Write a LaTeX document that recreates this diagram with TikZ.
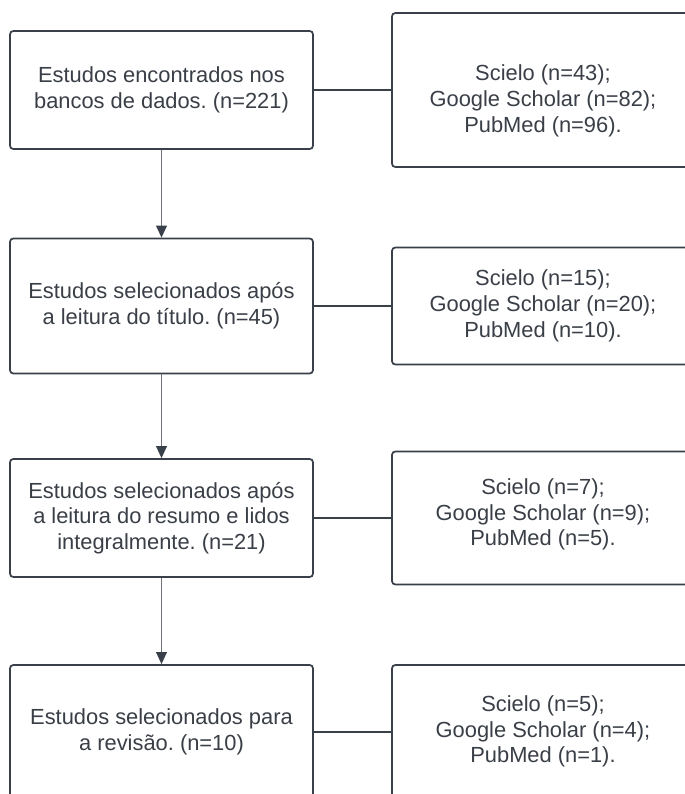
\documentclass[tikz,border=0pt]{standalone}
\usepackage{fontspec}
\setmainfont{Liberation Sans}
\usetikzlibrary{arrows.meta}
\definecolor{bordercol}{HTML}{3A4049}
\definecolor{textcol}{HTML}{3A3F47}
\definecolor{arrowcol}{HTML}{6E7278}
\frenchspacing
\begin{document}
\begin{tikzpicture}[x=0.75pt,y=-0.75pt,
  every node/.style={font=\fontsize{16.4pt}{19.3pt}\selectfont\frenchspacing, text=textcol, align=center, inner sep=0pt},
  leftbox/.style={draw=bordercol, line width=1.3pt, rounded corners=2.5pt, minimum width=303*0.75pt},
  rightbox/.style={draw=bordercol, line width=1.3pt, rounded corners=2.5pt, minimum width=302*0.75pt},
  flowarrow/.style={draw=arrowcol, line width=1.2pt, -{Triangle[length=9pt,width=8pt,fill=bordercol,color=bordercol]}},
  linkline/.style={draw=bordercol, line width=1.1pt}
]
\useasboundingbox (0,0) rectangle (685,794);
\clip (0,0) rectangle (685,794);
\fill[white] (0,0) rectangle (685,794);

% left boxes
\node[leftbox, minimum height=118*0.75pt] (l1) at (161.5,90) {Estudos encontrados nos\\bancos de dados. (n=221)};
\node[leftbox, minimum height=135*0.75pt] (l2) at (161.5,306) {Estudos selecionados após\\a leitura do título. (n=45)};
\node[leftbox, minimum height=118*0.75pt] (l3) at (161.5,518) {Estudos selecionados após\\a leitura do resumo e lidos\\integralmente. (n=21)};
\node[leftbox, minimum height=134*0.75pt] (l4) at (161.5,732) {Estudos selecionados para\\a revisão. (n=10)};

% right boxes
\node[rightbox, minimum height=154*0.75pt] (r1) at (543,90) {};
\node[rightbox, minimum height=117*0.75pt] (r2) at (543,306) {};
\node[rightbox, minimum height=133*0.75pt] (r3) at (543,518) {};
\node[rightbox, minimum height=134*0.75pt] (r4) at (543,732) {};

\node (t1) at (543,101) {Scielo (n=43);\\Google Scholar (n=82);\\PubMed (n=96).};
\node (t2) at (543,306) {Scielo (n=15);\\Google Scholar (n=20);\\PubMed (n=10).};
\node (t3) at (543,514.5) {Scielo (n=7);\\Google Scholar (n=9);\\PubMed (n=5).};
\node (t4) at (543,731.5) {Scielo (n=5);\\Google Scholar (n=4);\\PubMed (n=1).};

% vertical arrows
\draw[flowarrow] (l1.south) -- (l2.north);
\draw[flowarrow] (l2.south) -- (l3.north);
\draw[flowarrow] (l3.south) -- (l4.north);

% horizontal links
\draw[linkline] (l1.east) -- (r1.west);
\draw[linkline] (l2.east) -- (r2.west);
\draw[linkline] (l3.east) -- (r3.west);
\draw[linkline] (l4.east) -- (r4.west);
\end{tikzpicture}
\end{document}
